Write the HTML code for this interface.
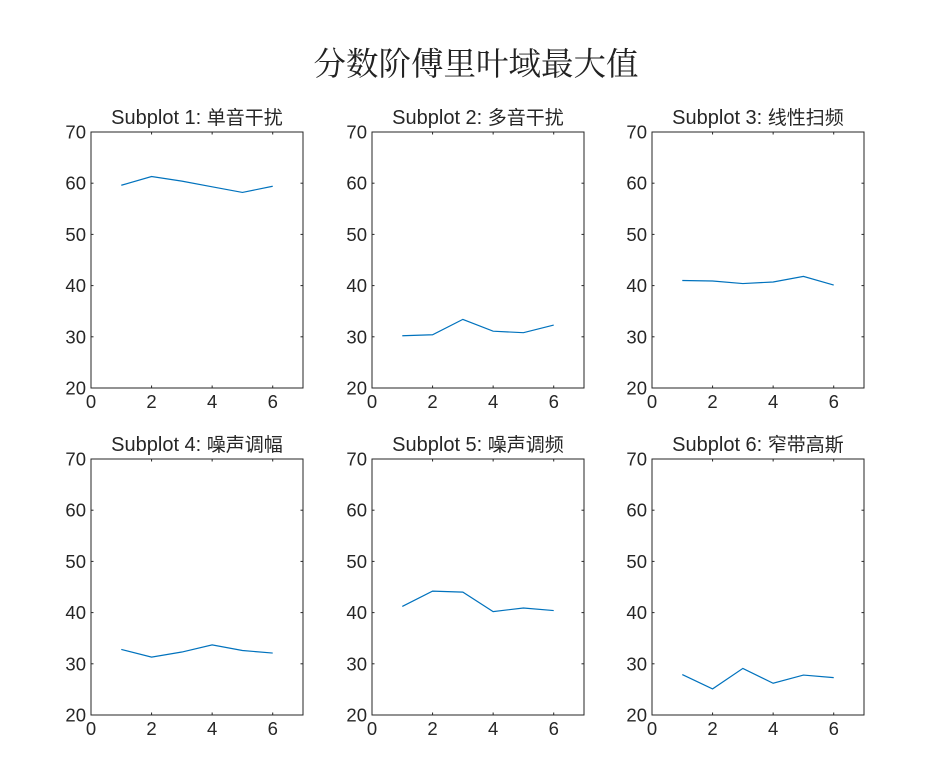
<!DOCTYPE html>
<html><head><meta charset="utf-8"><style>
body{margin:0;background:#fff;}
svg{display:block;}
text{font-family:"Liberation Sans","Noto Sans CJK SC",sans-serif;fill:#262626;}
</style></head><body>
<svg id="c" width="942" height="760" viewBox="0 0 942 760">
<text x="476" y="75" text-anchor="middle" font-size="32.5" style="font-family:'Noto Serif CJK SC','Noto Sans CJK SC',serif;fill:#222">分数阶傅里叶域最大值</text>
</svg>
<script>
const titles=["Subplot 1: ","Subplot 2: ","Subplot 3: ","Subplot 4: ","Subplot 5: ","Subplot 6: "];
const titlesCN=["单音干扰","多音干扰","线性扫频","噪声调幅","噪声调频","窄带高斯"];
const xs=[1,2,3,4,5,6];
const s1=[59.6,61.3,60.4,59.3,58.2,59.4];
const s2=[30.2,30.4,33.4,31.1,30.8,32.3];
const s3=[41.0,40.9,40.4,40.7,41.8,40.1];
const s4=[32.8,31.3,32.3,33.7,32.6,32.1];
const s5=[41.2,44.2,44.0,40.2,40.9,40.4];
const s6=[27.9,25.1,29.1,26.2,27.8,27.3];
const series=[s1,s2,s3,s4,s5,s6];
const xTicks=[0,2,4,6];
const yTicks=[20,30,40,50,60,70];
const NS="http://www.w3.org/2000/svg";
const svg=document.getElementById('c');
const lefts=[91,372,652], tops=[132,459], W=212, H=256;
function mk(t,a,p){const e=document.createElementNS(NS,t);for(const k in a)e.setAttribute(k,a[k]);p.appendChild(e);return e;}
series.forEach((d,i)=>{
  const L=lefts[i%3], T=tops[Math.floor(i/3)];
  const sx=v=>L+v/7*W, sy=v=>T+H-(v-20)/50*H;
  const g=mk('g',{},svg);
  
  
  const r=mk('rect',{x:L,y:T,width:W,height:H,fill:'#fff',stroke:'#262626','stroke-width':1},g);
  
  
  yTicks.forEach(v=>{
    mk('line',{x1:L,x2:L+2.5,y1:sy(v),y2:sy(v),stroke:'#262626'},g);
    mk('line',{x1:L+W,x2:L+W-2.5,y1:sy(v),y2:sy(v),stroke:'#262626'},g);
    const t=mk('text',{x:L-5,y:sy(v)+6.5,'text-anchor':'end','font-size':18.5},g);t.textContent=v;
    
    
  });
  xTicks.forEach(v=>{
    mk('line',{x1:sx(v),x2:sx(v),y1:T+H,y2:T+H-2.5,stroke:'#262626'},g);
    mk('line',{x1:sx(v),x2:sx(v),y1:T,y2:T+2.5,stroke:'#262626'},g);
    const t=mk('text',{x:sx(v),y:T+H+20,'text-anchor':'middle','font-size':18.5},g);t.textContent=v;
    
    
  });
  const p=mk('polyline',{points:d.map((v,j)=>sx(xs[j])+','+sy(v)).join(' '),fill:'none',stroke:'#0072BD','stroke-width':1.2},g);
  
  
  const tt=mk('text',{x:L+W/2,y:T-8,'text-anchor':'middle','font-size':20,fill:'#111'},g);
  
  
  const a=mk('tspan',{},tt);a.textContent=titles[i];
  const b=mk('tspan',{'font-size':19},tt);b.textContent=titlesCN[i];
});
</script>
</body></html>
